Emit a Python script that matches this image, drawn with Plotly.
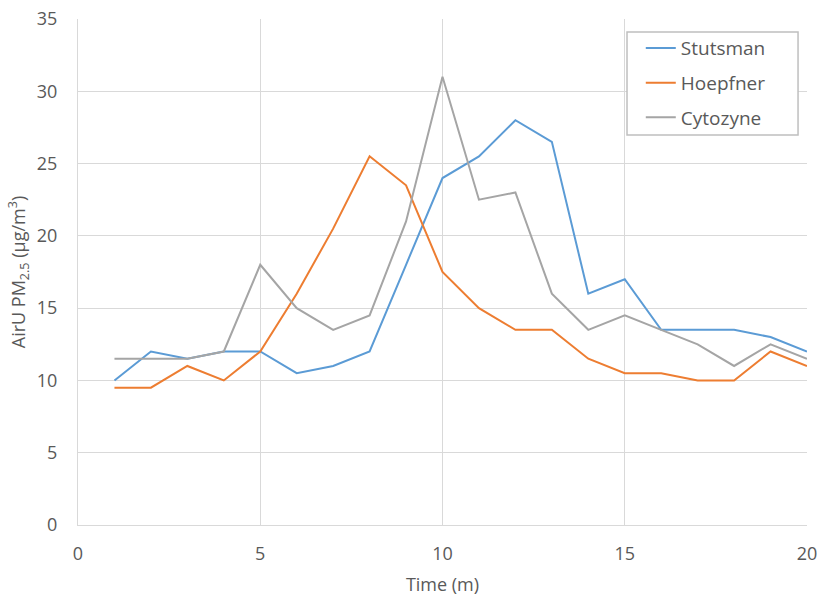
import plotly.graph_objects as go

time_m = list(range(1, 21))
stutsman = [10, 12, 11.5, 12, 12, 10.5, 11, 12, 18, 24, 25.5, 28, 26.5, 16, 17, 13.5, 13.5, 13.5, 13, 12]
hoepfner = [9.5, 9.5, 11, 10, 12, 16, 20.5, 25.5, 23.5, 17.5, 15, 13.5, 13.5, 11.5, 10.5, 10.5, 10, 10, 12, 11]
cytozyne = [11.5, 11.5, 11.5, 12, 18, 15, 13.5, 14.5, 21, 31, 22.5, 23, 16, 13.5, 14.5, 13.5, 12.5, 11, 12.5, 11.5]

series_names = ["Stutsman", "Hoepfner", "Cytozyne"]
series_vals = [stutsman, hoepfner, cytozyne]
colors = ["#5B9BD5", "#ED7D31", "#A5A5A5"]

FONT = "Open Sans"
TXT = "#595959"
GRID = "#D9D9D9"

fig = go.Figure()
for i, (name, vals, c) in enumerate(zip(series_names, series_vals, colors)):
    fig.add_trace(go.Scatter(x=time_m, y=vals, mode="lines", name=name,
                             legendgroup=name,
                             line=dict(color=c, width=2)))

# legend frame
fig.add_shape(type="rect", xref="paper", yref="paper",
              x0=0.7531, x1=0.9877, y0=0.7708, y1=0.9743,
              line=dict(color="#BFBFBF", width=1.5), fillcolor="white", layer="above")

fig.update_layout(
    width=822, height=598,
    margin=dict(l=78, r=15, t=19, b=73, autoexpand=False),
    paper_bgcolor="white", plot_bgcolor="white",
    font=dict(family=FONT, size=18, color=TXT),
    showlegend=True,
    legend=dict(x=0.772, y=0.980, xanchor="left", yanchor="top",
                borderwidth=0, bgcolor="rgba(0,0,0,0)",
                font=dict(family=FONT, size=19, color=TXT),
                traceorder="grouped", tracegroupgap=7,
                itemwidth=30),
    xaxis=dict(range=[0, 20], dtick=5, tick0=0, showgrid=True, gridcolor=GRID,
               gridwidth=1, zeroline=False, showline=True, linecolor=GRID,
               mirror=False, ticks="", ticklabelstandoff=12, automargin=False,
               title=dict(text="Time (m)", font=dict(size=18, color=TXT), standoff=14),
               tickfont=dict(size=18, color=TXT)),
    yaxis=dict(range=[0, 35], dtick=5, tick0=0, showgrid=True, gridcolor=GRID,
               gridwidth=1, zeroline=False, showline=True, linecolor=GRID,
               ticks="", ticklabelstandoff=16, automargin=False,
               title=dict(text="AirU PM<sub>2.5</sub> (µg/m<sup>3</sup>)",
                          font=dict(size=18, color=TXT), standoff=6),
               tickfont=dict(size=18, color=TXT)),
)

fig.write_html("out.html", config={"displayModeBar": False},
               post_script="document.body.style.margin='0px';document.body.style.overflow='hidden';")
